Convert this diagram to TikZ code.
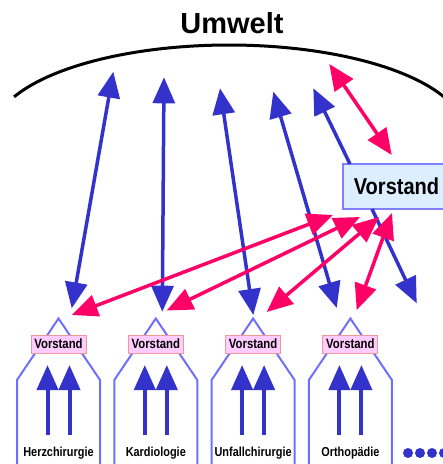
\documentclass[tikz,border=0pt]{standalone}
\usepackage{fontspec}
\setmainfont{Liberation Sans}
\usetikzlibrary{arrows.meta}
\definecolor{arrblue}{HTML}{3333CC}
\definecolor{houseblue}{HTML}{6F6FFF}
\definecolor{arrred}{HTML}{FF0066}
\definecolor{boxpink}{HTML}{FFCCFF}
\definecolor{boxpinkline}{HTML}{EE9999}
\definecolor{boxblue}{HTML}{DDEEFF}
\definecolor{boxblueline}{HTML}{8080FF}
\newcommand{\narrowbold}[2]{{\fontsize{#1}{#1}\selectfont\bfseries\scalebox{0.84}[1]{#2}}}
\tikzset{
  bigtip/.tip={Triangle[length=26pt,width=22pt]},
  bluelink/.style={draw=arrblue,line width=3.5pt},
  redlink/.style={draw=arrred,line width=3.5pt},
  housewall/.style={draw=houseblue,line width=2pt,line join=miter},
  smallboard/.style={draw=boxpinkline,fill=boxpink,line width=1pt,minimum width=55pt,minimum height=18pt,inner sep=0pt},
  bigboard/.style={draw=boxblueline,fill=boxblue,line width=2pt,minimum width=112pt,minimum height=45pt,inner sep=0pt},
  divlabel/.style={inner sep=0pt},
  innerarrow/.style={draw=arrblue,line width=4pt,-{Triangle[length=25pt,width=21pt]}}
}
\begin{document}
\begin{tikzpicture}[x=1pt,y=-1pt]
\useasboundingbox (0,0) rectangle (443,464);

% environment arc and title
\draw[line width=3pt] plot[domain=18:155.6,samples=90,smooth] ({229+236*cos(\x)},{133.4-88.4*sin(\x)});
\node[inner sep=0pt] (umwelt) at (232,23) {\fontsize{29}{29}\selectfont\bfseries Umwelt};

% divisions: house outline, board, two upward arrows, label
\foreach \i/\c/\lab in {1/58.5/Herzchirurgie,2/155.8/Kardiologie,3/253.1/Unfallchirurgie,4/350.4/Orthop\"adie}{
  \draw[housewall] (\c-41.5,466) -- (\c-41.5,380) -- (\c,318.5) -- (\c+41.5,380) -- (\c+41.5,466);
  \node[smallboard] (v\i) at (\c,344) {\narrowbold{13.5}{Vorstand}};
  \coordinate (la\i) at (\c-11,435);
  \coordinate (lb\i) at (\c+11,435);
  \coordinate (ta\i) at (\c-11,365);
  \coordinate (tb\i) at (\c+11,365);
  \draw[innerarrow] (la\i) -- (ta\i);
  \draw[innerarrow] (lb\i) -- (tb\i);
  \node[divlabel] (d\i) at (\c,453) {\narrowbold{13}{\lab}};
}

% more divisions
\foreach \k/\x in {1/408,2/420,3/432,4/444}{
  \fill[arrblue] (\x,453) circle[radius=5];
}

% central board
\node[bigboard] (board) at (399,186.5) {\hspace*{-5pt}\fontsize{23}{23}\selectfont\bfseries\scalebox{0.87}[1]{Vorstand}};

% blue links between environment and divisions
\coordinate (u1) at (113.3,71.7);  \coordinate (h1) at (71.7,308.3);
\coordinate (u2) at (164,77.3);    \coordinate (h2) at (162.3,311.7);
\coordinate (u3) at (220,88.3);    \coordinate (h3) at (253.3,315);
\coordinate (u4) at (273.3,91.7);  \coordinate (h4) at (336.7,308);
\coordinate (u5) at (313.3,88.3);  \coordinate (bt) at (350,164);
\coordinate (bb) at (372,209);     \coordinate (h5) at (416.7,303.3);
\foreach \n in {1,2,3,4}{
  \draw[bluelink,bigtip-bigtip] (u\n) -- (h\n);
}
\draw[bluelink,-bigtip] (bt) -- (u5);
\draw[bluelink,-bigtip] (bb) -- (h5);

% red links of the central board
\coordinate (ru) at (329.3,64);    \coordinate (rb) at (391.7,155);
\draw[redlink,bigtip-bigtip] (ru) -- (rb);
\coordinate (ra1) at (333,215);    \coordinate (rh1) at (71.7,315);
\coordinate (ra2) at (360,217);    \coordinate (rh2) at (166.7,310.5);
\coordinate (ra3) at (379,217);    \coordinate (rh3) at (266.7,312);
\coordinate (ra4) at (392,213);    \coordinate (rh4) at (356.7,310);
\foreach \n in {1,2,3,4}{
  \draw[redlink,bigtip-bigtip] (ra\n) -- (rh\n);
}
\end{tikzpicture}
\end{document}
